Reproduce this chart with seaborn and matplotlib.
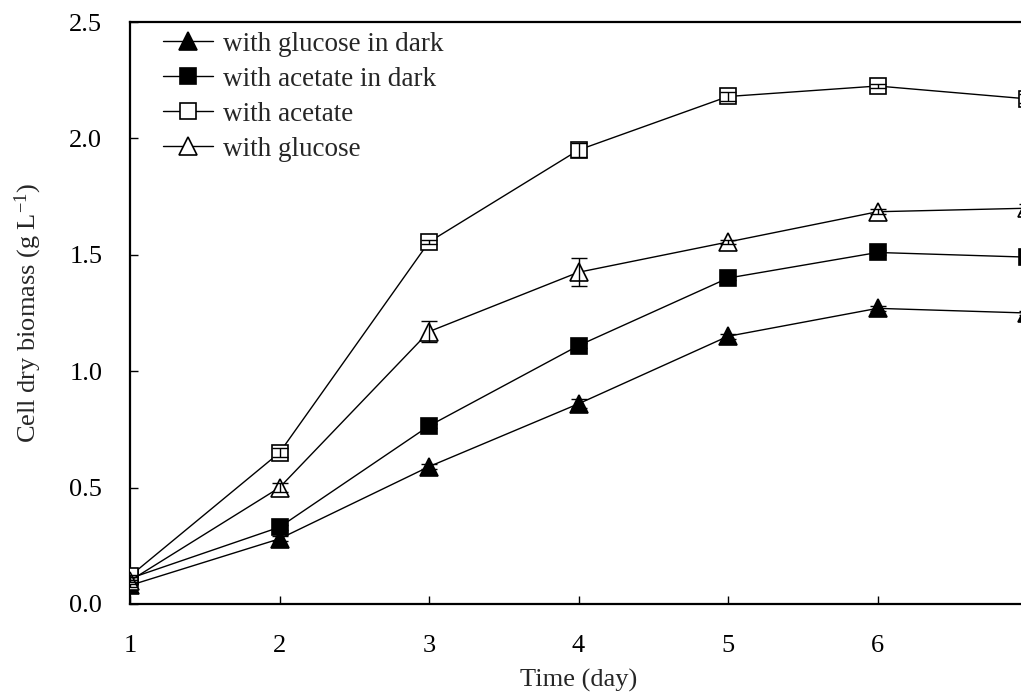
import matplotlib
matplotlib.use("Agg")
import matplotlib.pyplot as plt
import seaborn as sns
import pandas as pd

# Data
days = [1, 2, 3, 4, 5, 6, 7]
glucose_dark = [0.08, 0.28, 0.59, 0.86, 1.15, 1.27, 1.25]
glucose_dark_err = [0.005, 0.01, 0.01, 0.02, 0.01, 0.01, 0.01]
acetate_dark = [0.11, 0.33, 0.765, 1.11, 1.40, 1.51, 1.49]
acetate_dark_err = [0.005, 0.01, 0.01, 0.01, 0.01, 0.01, 0.01]
acetate = [0.12, 0.65, 1.555, 1.95, 2.18, 2.225, 2.17]
acetate_err = [0.005, 0.02, 0.01, 0.03, 0.02, 0.01, 0.02]
glucose = [0.10, 0.50, 1.17, 1.425, 1.555, 1.685, 1.70]
glucose_err = [0.005, 0.02, 0.045, 0.06, 0.01, 0.01, 0.02]

labels = ["with glucose in dark", "with acetate in dark", "with acetate", "with glucose"]

sns.set_theme(style="white")
plt.rcParams["font.family"] = ["Liberation Serif", "DejaVu Serif"]
plt.rcParams["mathtext.default"] = "regular"

fig = plt.figure(figsize=(10.21, 6.94), dpi=100)
ax = fig.add_axes([130 / 1021, 90 / 694, 897 / 1021, 582 / 694])

series = [
    (labels[0], glucose_dark, glucose_dark_err, "^", "black", 13),
    (labels[1], acetate_dark, acetate_dark_err, "s", "black", 12),
    (labels[2], acetate, acetate_err, "s", "white", 12),
    (labels[3], glucose, glucose_err, "^", "white", 13),
]

for name, vals, err, mk, face, ms in series:
    df = pd.DataFrame({"day": days, "biomass": vals})
    ax.errorbar(days, vals, yerr=err, fmt="none", ecolor="black",
                elinewidth=1.0, capsize=6, capthick=1.0, zorder=4)
    sns.lineplot(data=df, x="day", y="biomass", ax=ax, color="black",
                 linewidth=1.0, marker=mk, markersize=ms,
                 markerfacecolor=face, markeredgecolor="black",
                 markeredgewidth=1.2, label=name, zorder=3)

ax.set_xlim(1, 7)
ax.set_ylim(0, 2.5)
ax.set_xticks(days)
ax.set_yticks([0.0, 0.5, 1.0, 1.5, 2.0, 2.5])
ax.set_yticklabels(["0.0", "0.5", "1.0", "1.5", "2.0", "2.5"])
ax.tick_params(axis="both", direction="in", length=6, width=1.0,
               labelsize=19, colors="black")
ax.tick_params(axis="x", pad=22, bottom=True, top=False)
ax.tick_params(axis="y", pad=20, left=True, right=False)
for s in ax.spines.values():
    s.set_color("black")
    s.set_linewidth(1.6)

ax.set_xlabel("Time (day)", fontsize=19, labelpad=9)
ax.set_ylabel("Cell dry biomass (g L$^{-1}$)", fontsize=19, labelpad=18)

leg = ax.legend(loc="upper left", frameon=False, fontsize=19.5,
                handlelength=1.85, handletextpad=0.37, labelspacing=0.37,
                bbox_to_anchor=(0.025, 1.002), borderaxespad=0.0)

fig.savefig("out.png", dpi=100)
